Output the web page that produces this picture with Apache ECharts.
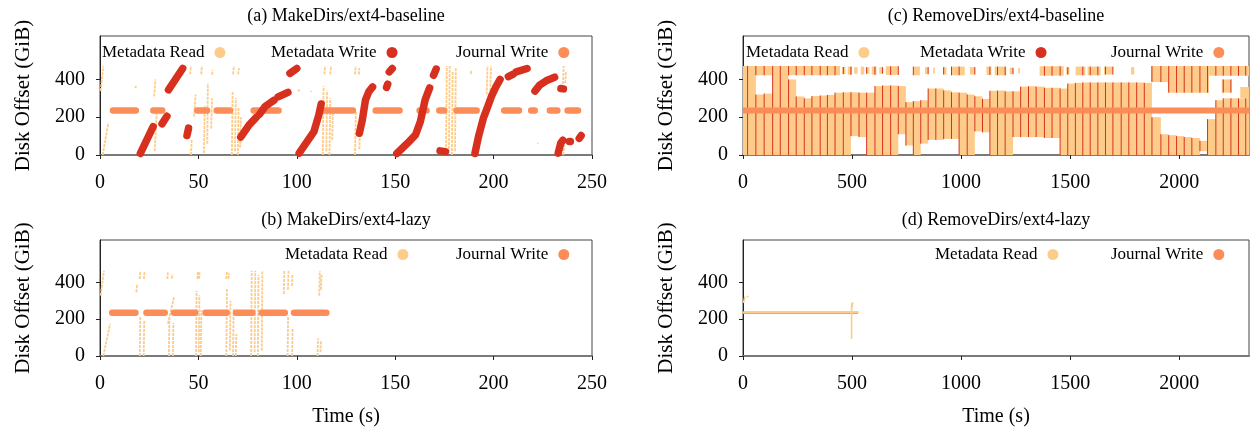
<!DOCTYPE html>
<html><head><meta charset="utf-8">
<script src="https://cdn.jsdelivr.net/npm/echarts@6/dist/echarts.min.js"></script>
<style>html,body{margin:0;padding:0;background:#fff}#chart{width:1250px;height:428px}</style>
</head><body><div id="chart"></div>
<script>
// ---------------- data ----------------
const panelTitles = ['(a) MakeDirs/ext4-baseline', '(b) MakeDirs/ext4-lazy', '(c) RemoveDirs/ext4-baseline', '(d) RemoveDirs/ext4-lazy'];
const seriesNames = ['Metadata Read', 'Metadata Write', 'Journal Write'];
const xTicksMake = [0, 50, 100, 150, 200, 250];
const xTicksRemove = [0, 500, 1000, 1500, 2000];
const yTicks = [0, 200, 400];
const journalOffset = 235;

// (a) MakeDirs / ext4-baseline
const aJournalSpans = [[6.6,18.2],[27.1,31.6],[39.1,39.4],[44,44.3],[49.4,54.4],[59.3,66.1],[78.1,90.7],[99.5,99.8],[106.4,106.7],[112,128.5],[140.1,152.2],[162.4,165.9],[172.4,174.9],[181.1,191.4],[205.4,212.9],[219.1,220.9],[228.6,232.4],[237.6,242.9]];
const aWriteStreaks = [
  [[20.5,8],[27,150]],
  [[31.5,165],[34,205]],
  [[34.8,345],[42,458]],
  [[44.2,103],[45,142]],
  [[71.5,95],[75.8,160],[79.5,200]],
  [[81,215],[84,258],[88.5,290]],
  [[90.5,308],[95.5,332]],
  [[96.5,432],[100,458]],
  [[101.2,10],[108.7,124],[111.2,213],[112.4,270]],
  [[113,334],[113.2,335]],
  [[131.8,115],[133.3,186],[134.9,292],[136.6,336],[138.5,360]],
  [[145.6,358],[146.2,375]],
  [[147,440],[148.5,458]],
  [[150.8,8],[156.2,62],[160.3,106],[162.8,177],[165.2,292],[167.5,355]],
  [[169.5,422],[170.8,455]],
  [[172.8,22],[175.5,18]],
  [[190.5,8],[192.3,97],[194.8,195],[196.4,239],[198.9,310],[201.3,363],[203.3,400]],
  [[207.5,415],[210,428]],
  [[211.5,440],[217,458]],
  [[221,338],[223.4,370],[226.7,393],[231,412]],
  [[231.6,458],[231.8,458]],
  [[234.2,352],[235.5,350]],
  [[239.8,345],[240,345]],
  [[244.5,336],[244.7,337]],
  [[232.8,10],[234.1,62],[235.2,78]],
  [[238.5,72],[239,72]],
  [[243.5,88],[244.5,103]]
];
const aReadStreaks = [
  [0.3,338,1.7,471],[1.4,0,4.2,170],[18,355,18.3,365],[27.5,310,28.2,400],[27.8,20,28.8,222],
  [45.8,427,46.2,471],[46.2,0,46.6,80],[47.8,204,48.6,320],[51.4,427,51.8,471],[52.8,10,53.2,260],
  [54.5,60,54.8,380],[56.5,140,56.9,300],[57,425,57.2,450],[67.6,427,68,471],[70.2,427,70.6,460],
  [67,0,67.4,338],[68.6,20,69,300],[70,0,70.4,250],[71.2,40,71.6,200],[100.5,338,101.5,345],
  [107,334,107.5,338],[114,427,114.4,471],[117,427,117.4,471],[113.2,0,113.6,364],[115,20,115.4,340],
  [116.6,0,117,300],[118,80,118.4,250],[129.5,427,130,471],[131.5,427,131.8,460],[129.6,0,130,231],
  [131.8,30,132.2,195],[175.8,0,176.2,471],[177.3,10,177.7,471],[178.8,0,179.2,440],[180.4,20,180.8,460],
  [188.5,430,188.8,450],[196.5,320,196.9,471],[198.3,340,198.7,471],[222.2,60,222.6,64],
  [235.2,355,235.6,471],[236.4,380,236.8,440],[235.5,0,235.8,53]
];

// (b) MakeDirs / ext4-lazy
const bJournalSpans = [[6.2,18],[23.6,32.9],[37.6,48.4],[53.6,64.4],[69.1,77.4],[82.1,93.9],[98.6,115]];
const bReadStreaks = [
  [0.3,328,2.0,463],[1.7,0,5.1,176],[18.5,346,18.8,391],[20.2,418,20.5,463],[22.3,418,22.6,455],
  [20.2,0,20.5,212],[22.2,0,22.5,190],[34.2,418,34.5,454],[36.5,420,36.8,445],[34.5,176,37.6,319],
  [35,0,35.3,220],[37,0,37.3,180],[49.5,418,49.8,463],[50.3,420,50.6,455],[48.8,0,49.1,355],
  [50.2,20,50.5,330],[51.2,0,51.5,250],[64.2,418,64.5,463],[65.3,420,65.6,450],[64.2,0,64.5,364],
  [66,30,66.3,300],[67.6,0,67.9,260],[69,0,69.3,120],[76.8,0,77.1,463],[78.6,20,78.9,463],
  [80.2,0,80.5,440],[82.2,30,82.5,463],[93.4,337,93.7,463],[95.5,360,95.8,463],[97.5,380,97.8,440],
  [95.3,0,95.6,220],[97.6,0,97.9,150],[111.4,328,111.7,463],[112.3,360,112.6,440],[110.5,0,110.8,95],
  [112,20,112.3,80]
];

// (c) RemoveDirs / ext4-baseline : read columns between write bursts
const cColEdges = [0,21,59,97,136,171,209,244,281,316,354,387,422,460,495,532,567,605,640,677,712,747,781,815,849,884,920,956,991,1028,1063,1098,1132,1167,1202,1238,1273,1309,1344,1382,1417,1454,1489,1524,1558,1592,1627,1662,1696,1734,1769,1805,1840,1875,1916,1952,1988,2023,2058,2095,2130,2168,2202,2237,2272,2305,2320];
const cColLo = [0,0,0,0,0,0,0,0,0,0, 0,0,0,0,100,95,0,0,0,0, 110,50,0,60,80,80,85,85,0,0, 125,120,0,0,0,95,95,95,95,90, 90,0,0,0,0,0,0,0,0,0, 0,0,0,0,0,0,0,0,0,20, 0,0,0,0,0,0];
const cColHi = [471,471,320,325,471,471,400,310,300,312, 315,318,330,332,332,330,330,365,368,368, 365,280,285,290,352,352,342,332,330,320, 311,297,340,341,337,337,362,364,362,356, 356,352,378,382,384,384,384,384,384,384, 384,384,382,200,110,105,100,95,90,75, 190,290,300,300,300,300];
const cBandRects = [[0,136,422,471],[209,445,422,471],[455,470,428,466],[480,500,425,468],[510,525,430,465],[540,556,426,468],[565,580,430,465],[590,612,425,468],[625,640,430,465],[655,712,424,470],[781,811,422,468],[834,849,428,465],[872,880,432,462],[918,933,426,465],[956,1017,422,468],[1040,1063,426,465],[1116,1139,424,468],[1154,1207,422,468],[1223,1238,428,462],[1262,1270,432,460],[1360,1470,420,470],[1482,1497,426,465],[1525,1570,422,468],[1580,1640,422,468],[1655,1696,426,468],[1779,1794,426,465],[1871,1948,386,471],[1948,2137,330,471],[2137,2320,420,471],[2195,2240,330,400],[2280,2320,300,360]];
const cJournalSpans = [[0,2320]];

// (d) RemoveDirs / ext4-lazy
const dJournalSpans = [[0,527]];
const dReadStreaks = [[0,237,529,237],[498,97,498,283],[499,262,503,289],[3,292,8,319],[20,322,23,324],[449,100,451,100]];

// ---------------- styling ----------------
const FONT = '"Liberation Serif", "Times New Roman", serif';
const C_READ = '#fdcc8a', C_WRITE = '#d7301f', C_JOURNAL = '#fc8d59';

const grids = [
  {left: 100, top: 36, width: 492, height: 119},
  {left: 100, top: 240, width: 492, height: 118},
  {left: 743, top: 36, width: 506, height: 119},
  {left: 743, top: 240, width: 506, height: 118}
].map(g => Object.assign({show: true, borderColor: '#444', borderWidth: 1, backgroundColor: 'transparent'}, g));

function xAxis(i, max, ticks, withName) {
  return {
    type: 'value', gridIndex: i, min: 0, max: max,
    name: withName ? 'Time (s)' : '', nameLocation: 'middle', nameGap: 51,
    nameTextStyle: {fontFamily: FONT, fontSize: 20, color: '#000'},
    axisLine: {show: true, onZero: false, lineStyle: {color: '#7a7a7a', width: 2}},
    axisTick: {show: true, inside: false, length: 4, customValues: ticks, lineStyle: {color: '#222', width: 1}},
    axisLabel: {customValues: ticks, formatter: v => String(v), fontFamily: FONT, fontSize: 20, color: '#000', margin: 18},
    splitLine: {show: false}
  };
}
function yAxis(i) {
  return {
    type: 'value', gridIndex: i, min: 0, max: 630,
    name: 'Disk Offset (GiB)', nameLocation: 'middle', nameGap: 66,
    nameTextStyle: {fontFamily: FONT, fontSize: 21, color: '#000'},
    axisLine: {show: true, onZero: false, lineStyle: {color: '#222', width: 1}},
    axisTick: {show: true, inside: false, length: 4, customValues: yTicks, lineStyle: {color: '#222', width: 1}},
    axisLabel: {customValues: yTicks, formatter: v => String(v), fontFamily: FONT, fontSize: 20, color: '#000', margin: 15},
    splitLine: {show: false}
  };
}

const titlePos = [[346, 7], [346, 211], [996, 7], [996, 211]];
const titles = panelTitles.map((t, i) => ({
  text: t, left: titlePos[i][0], top: titlePos[i][1], textAlign: 'center', padding: 0,
  textStyle: {fontFamily: FONT, fontSize: 18, fontWeight: 'normal', color: '#000'}
}));

const colorOf = {'Metadata Read': C_READ, 'Metadata Write': C_WRITE, 'Journal Write': C_JOURNAL};
const legendPos = [
  ['Metadata Read', 102, 44], ['Metadata Write', 271, 44], ['Journal Write', 456, 44],
  ['Metadata Read', 285, 246], ['Journal Write', 456, 246],
  ['Metadata Read', 746, 44], ['Metadata Write', 920, 44], ['Journal Write', 1111, 44],
  ['Metadata Read', 935, 246], ['Journal Write', 1111, 246]
];
const legends = legendPos.map(([name, x, y]) => ({
  data: [{name: name, icon: 'circle', itemStyle: {color: colorOf[name], borderWidth: 0}}],
  left: x, top: y, align: 'right', orient: 'horizontal', padding: 0,
  itemWidth: 21, itemHeight: 11, selectedMode: false,
  textStyle: {fontFamily: FONT, fontSize: 17, color: '#000'}
}));

// ---------------- builders ----------------
const BREAK = [null, null];
function segData(segs) { const o = []; segs.forEach(s => { o.push([s[0], s[1]], [s[2], s[3]], BREAK); }); return o; }
function polyData(polys) { const o = []; polys.forEach(p => { p.forEach(pt => o.push(pt)); o.push(BREAK); }); return o; }
function spanData(spans, y) { const o = []; spans.forEach(s => { o.push([s[0], y], [s[1], y], BREAK); }); return o; }
function lineSeries(name, grid, data, color, width, cap, z, dash) {
  return {
    type: 'line', name: name, xAxisIndex: grid, yAxisIndex: grid, data: data,
    showSymbol: false, symbol: 'none', connectNulls: false, silent: true, z: z,
    itemStyle: {color: color},
    lineStyle: {color: color, width: width, cap: cap, join: 'round', type: dash || 'solid'},
    emphasis: {disabled: true}
  };
}

// (c) read rectangles: one per column plus the sparse band near the top of the disk
const cReadRects = [];
for (let i = 0; i < cColLo.length; i++) cReadRects.push([cColEdges[i], cColEdges[i + 1], cColLo[i], cColHi[i]]);
cBandRects.forEach(r => cReadRects.push(r));
// (c) write bursts at each column edge, spanning that column's read coverage
const cWriteSegs = [];
for (let i = 1; i < cColLo.length; i++) {
  const x = cColEdges[i];
  cWriteSegs.push([x, cColLo[i], x, cColHi[i]]);
  cBandRects.forEach(r => { if (x >= r[0] && x <= r[1] && r[2] > cColHi[i]) cWriteSegs.push([x, r[2], x, r[3]]); });
}

function rectRender(params, api) {
  const a = api.coord([api.value(0), api.value(3)]);
  const b = api.coord([api.value(1), api.value(2)]);
  return {type: 'rect', shape: {x: a[0], y: a[1], width: b[0] - a[0], height: b[1] - a[1]}, style: {fill: C_READ}};
}

const series = [
  // (a)
  lineSeries('Metadata Read', 0, segData(aReadStreaks), C_READ, 1.8, 'butt', 2, [3, 1]),
  lineSeries('Journal Write', 0, spanData(aJournalSpans, journalOffset), C_JOURNAL, 6.5, 'round', 3),
  lineSeries('Metadata Write', 0, polyData(aWriteStreaks), C_WRITE, 7.5, 'round', 4),
  // (b)
  lineSeries('Metadata Read', 1, segData(bReadStreaks), C_READ, 1.8, 'butt', 2, [3, 1]),
  lineSeries('Journal Write', 1, spanData(bJournalSpans, journalOffset), C_JOURNAL, 6.5, 'round', 3),
  // (c)
  {
    type: 'custom', name: 'Metadata Read', xAxisIndex: 2, yAxisIndex: 2, data: cReadRects,
    encode: {x: [0, 1], y: [2, 3]}, renderItem: rectRender, itemStyle: {color: C_READ},
    clip: true, silent: true, z: 2
  },
  lineSeries('Metadata Write', 2, segData(cWriteSegs), C_WRITE, 1, 'butt', 3),
  lineSeries('Journal Write', 2, spanData(cJournalSpans, journalOffset), C_JOURNAL, 6, 'butt', 4),
  // (d)
  lineSeries('Journal Write', 3, spanData(dJournalSpans, journalOffset), C_JOURNAL, 2.5, 'butt', 3),
  lineSeries('Metadata Read', 3, segData(dReadStreaks), C_READ, 1.6, 'round', 4)
];

const chart = echarts.init(document.getElementById('chart'), null, {renderer: 'canvas'});
chart.setOption({
  animation: false,
  backgroundColor: '#fff',
  title: titles,
  legend: legends,
  grid: grids,
  xAxis: [xAxis(0, 250, xTicksMake, false), xAxis(1, 250, xTicksMake, true), xAxis(2, 2320, xTicksRemove, false), xAxis(3, 2320, xTicksRemove, true)],
  yAxis: [yAxis(0), yAxis(1), yAxis(2), yAxis(3)],
  series: series
});
</script></body></html>
